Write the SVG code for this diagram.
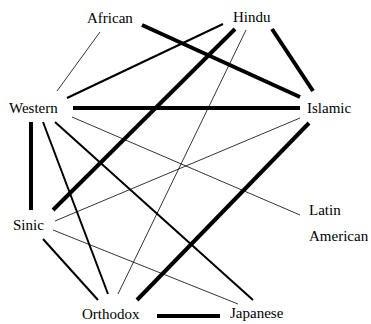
<svg xmlns="http://www.w3.org/2000/svg" width="371" height="324" viewBox="0 0 371 324">
<style>
.thin{stroke:#000;stroke-width:0.8;fill:none}
.med{stroke:#000;stroke-width:2;fill:none}
.thick{stroke:#000;stroke-width:4;fill:none}
</style>
<rect width="371" height="324" fill="#fff"/>
<g id="connectors">
<line class="thin" x1="100" y1="32" x2="57" y2="91"/>
<line class="thick" x1="142" y1="25" x2="300" y2="97"/>
<line class="med" x1="67" y1="98" x2="223" y2="24"/>
<line class="thick" x1="73" y1="108" x2="300" y2="108"/>
<line class="thick" x1="235" y1="29" x2="53" y2="210"/>
<line class="thin" x1="246" y1="30" x2="118" y2="294"/>
<line class="thick" x1="272" y1="29" x2="313" y2="91"/>
<line class="thin" x1="300" y1="118" x2="55" y2="221"/>
<line class="thick" x1="309" y1="123" x2="137" y2="300"/>
<line class="thick" x1="31" y1="122" x2="31" y2="210"/>
<line class="med" x1="43" y1="122" x2="108" y2="294"/>
<line class="med" x1="55" y1="122" x2="253" y2="300"/>
<line class="thin" x1="72" y1="117" x2="300" y2="215"/>
<line class="med" x1="43" y1="239" x2="98" y2="300"/>
<line class="thin" x1="53" y1="230" x2="238" y2="304"/>
<line class="thick" x1="157" y1="316" x2="220" y2="316"/>
</g>
<g id="african"><text x="87" y="23" font-family="Liberation Serif" font-size="15">African</text></g>
<g id="hindu"><text x="233" y="22" font-family="Liberation Serif" font-size="15">Hindu</text></g>
<g id="western"><text x="9" y="113" font-family="Liberation Serif" font-size="15">Western</text></g>
<g id="islamic"><text x="307" y="113" font-family="Liberation Serif" font-size="15">Islamic</text></g>
<g id="sinic"><text x="13" y="230" font-family="Liberation Serif" font-size="15">Sinic</text></g>
<g id="latin"><text x="309" y="215" font-family="Liberation Serif" font-size="15">Latin</text><text x="309" y="241" font-family="Liberation Serif" font-size="15">American</text></g>
<g id="orthodox"><text x="82" y="319" font-family="Liberation Serif" font-size="15">Orthodox</text></g>
<g id="japanese"><text x="230" y="318" font-family="Liberation Serif" font-size="15">Japanese</text></g>
</svg>
